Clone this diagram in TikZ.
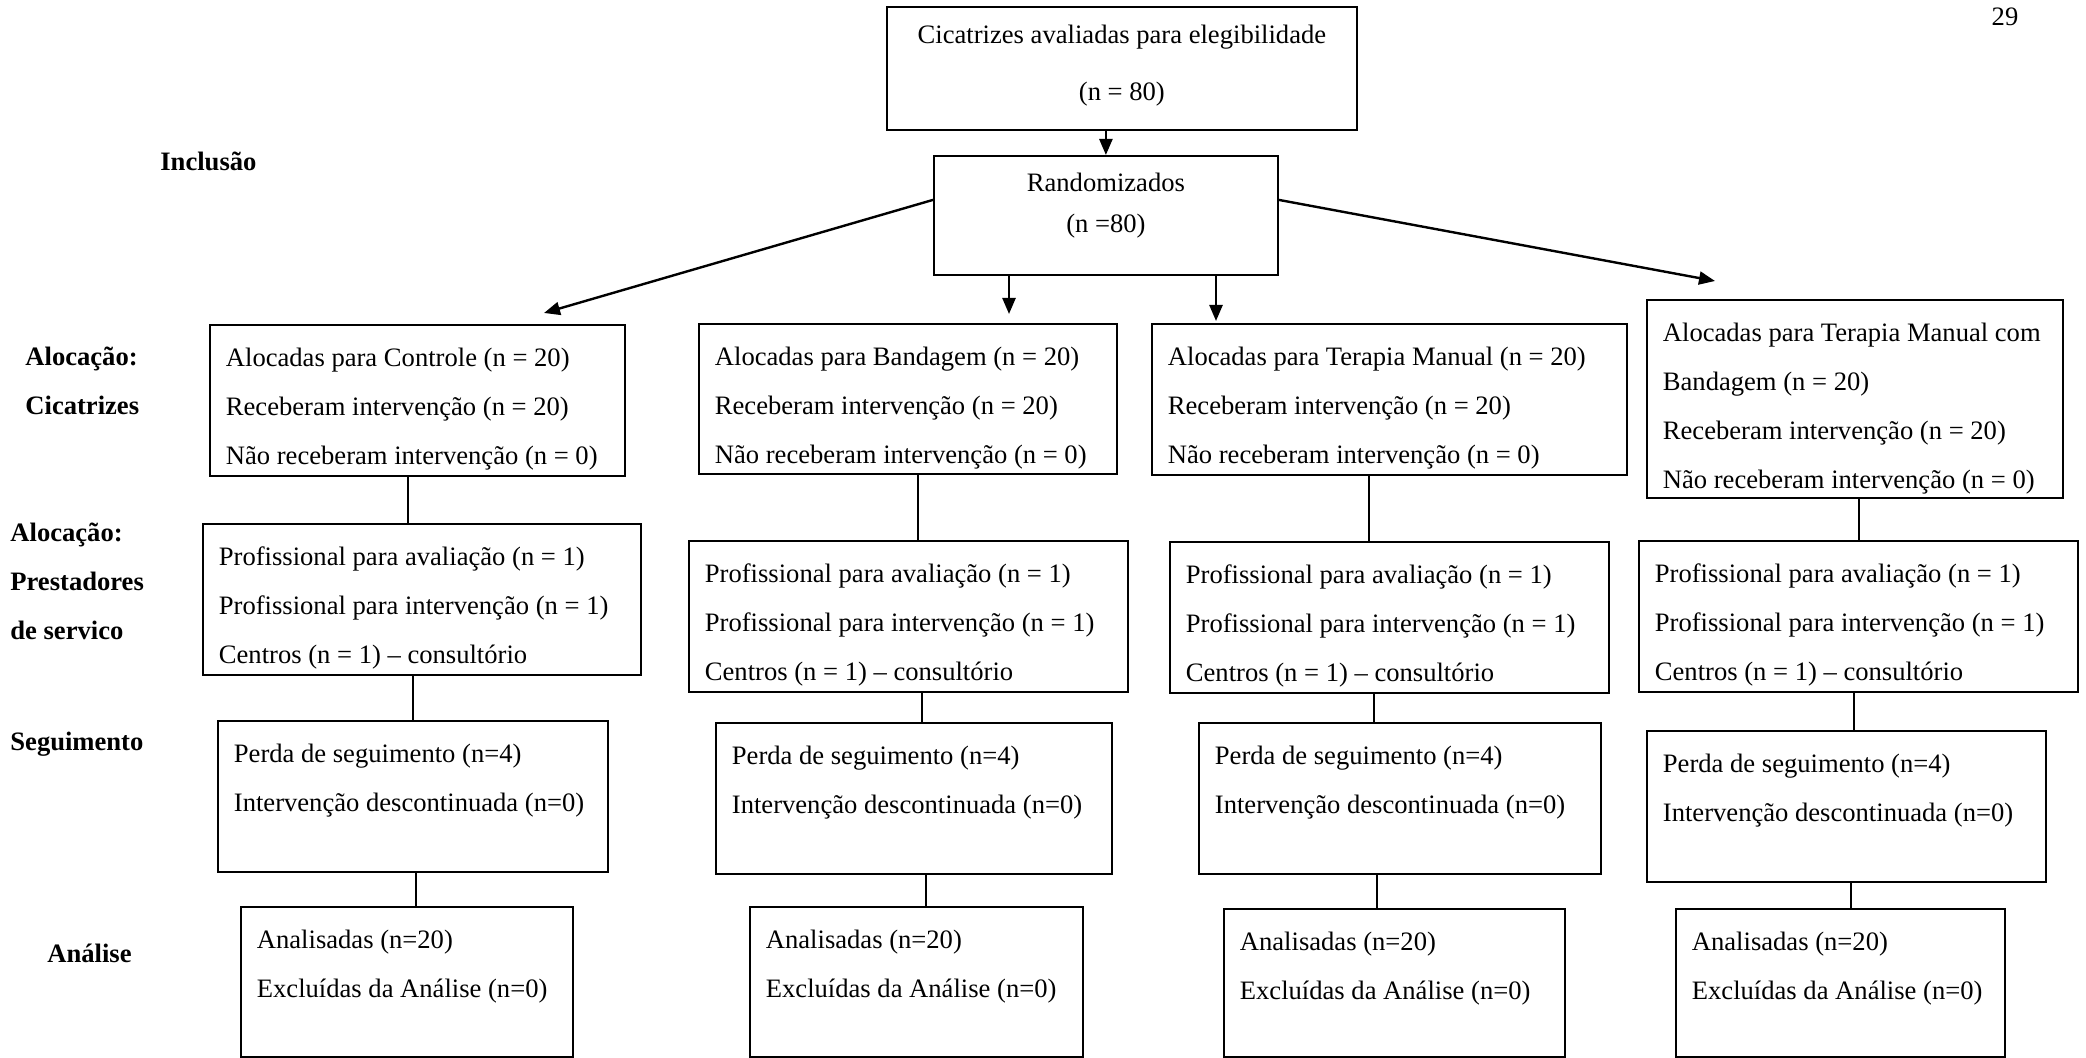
\documentclass[tikz,border=0pt]{standalone}
\usepackage{fontspec}
\setmainfont{Liberation Serif}
\usetikzlibrary{arrows.meta}

\begin{document}
\begin{tikzpicture}[
    x=0.5pt, y=-0.5pt,
    font=\fontsize{13.3}{24.5}\selectfont,
    block/.style={rectangle, draw, line width=0.9pt, anchor=north west, align=flush left, inner xsep=8pt, inner ysep=11pt, text height=10pt},
    phase/.style={anchor=base west, align=flush left, text width=80pt, inner sep=0pt, font=\fontsize{13.3}{24.5}\selectfont\bfseries},
    arrow/.style={-{Triangle[length=8pt, width=6.5pt]}, line width=1.2pt},
    link/.style={line width=0.6pt}
]
\useasboundingbox (0,0) rectangle (2086,1058);

% inclusion
\node[block, align=flush center, text width=219pt, text height=7.5pt, text depth=32pt] (top) at (886,6) {Cicatrizes avaliadas para elegibilidade\\[4pt](n = 80)};
\node[block, align=flush center, text width=156pt, text height=7pt, text depth=30.5pt] (rand) at (933,155) {Randomizados\\[-4pt](n =80)};

% allocation: scars
\node[block, text width=191.5pt, text depth=43.5pt] (a1) at (209,324) {Alocadas para Controle (n = 20)\\Receberam intervenção (n = 20)\\Não receberam intervenção (n = 0)};
\node[block, text width=193pt, text depth=43pt] (a2) at (698,323) {Alocadas para Bandagem (n = 20)\\Receberam intervenção (n = 20)\\Não receberam intervenção (n = 0)};
\node[block, text width=221.5pt, text depth=43.5pt] (a3) at (1151,323) {Alocadas para Terapia Manual (n = 20)\\Receberam intervenção (n = 20)\\Não receberam intervenção (n = 0)};
\node[block, text width=192pt, text depth=67pt] (a4) at (1646,299) {Alocadas para Terapia Manual com\\Bandagem (n = 20)\\Receberam intervenção (n = 20)\\Não receberam intervenção (n = 0)};

% allocation: providers
\node[block, text width=203pt, text depth=43.5pt] (b1) at (202,523) {Profissional para avaliação (n = 1)\\Profissional para intervenção (n = 1)\\Centros (n = 1) -- consultório};
\node[block, text width=203.5pt, text depth=43.5pt] (b2) at (688,540) {Profissional para avaliação (n = 1)\\Profissional para intervenção (n = 1)\\Centros (n = 1) -- consultório};
\node[block, text width=203.5pt, text depth=43.5pt] (b3) at (1169,541) {Profissional para avaliação (n = 1)\\Profissional para intervenção (n = 1)\\Centros (n = 1) -- consultório};
\node[block, text width=203.5pt, text depth=43.5pt] (b4) at (1638,540) {Profissional para avaliação (n = 1)\\Profissional para intervenção (n = 1)\\Centros (n = 1) -- consultório};

% follow-up
\node[block, text width=179pt, text depth=43.5pt] (c1) at (217,720) {Perda de seguimento (n=4)\\Intervenção descontinuada (n=0)};
\node[block, text width=182pt, text depth=43.5pt] (c2) at (715,722) {Perda de seguimento (n=4)\\Intervenção descontinuada (n=0)};
\node[block, text width=185pt, text depth=43.5pt] (c3) at (1198,722) {Perda de seguimento (n=4)\\Intervenção descontinuada (n=0)};
\node[block, text width=183.5pt, text depth=43.5pt] (c4) at (1646,730) {Perda de seguimento (n=4)\\Intervenção descontinuada (n=0)};

% analysis
\node[block, text width=150pt, text depth=43pt] (d1) at (240,906) {Analisadas (n=20)\\Excluídas da Análise (n=0)};
\node[block, text width=150.5pt, text depth=43pt] (d2) at (749,906) {Analisadas (n=20)\\Excluídas da Análise (n=0)};
\node[block, text width=154.5pt, text depth=42pt] (d3) at (1223,908) {Analisadas (n=20)\\Excluídas da Análise (n=0)};
\node[block, text width=148.5pt, text depth=42pt] (d4) at (1675,908) {Analisadas (n=20)\\Excluídas da Análise (n=0)};

% phase names
\node[phase] (incl) at (160,171) {Inclusão};
\node[phase] (alocA) at (25,366) {Alocação:\\Cicatrizes};
\node[phase] (alocB) at (10,541) {Alocação:\\Prestadores\\de servico};
\node[phase] (seg) at (10,750) {Seguimento};
\node[phase] (ana) at (47,962) {Análise};
\node[anchor=base, inner sep=0pt] (page) at (2005,26) {29};

% arrows
\coordinate (tipL) at (544,313);
\coordinate (tipM1) at (1009,314);
\coordinate (tipM2) at (1216,321);
\coordinate (tipR) at (1715,281);

\draw[arrow] (top.south -| rand.north) -- (rand.north);
\draw[arrow] ([yshift=7.75pt]rand.west) -- (tipL);
\draw[arrow] (rand.south -| tipM1) -- (tipM1);
\draw[arrow] (rand.south -| tipM2) -- (tipM2);
\draw[arrow] ([yshift=7.75pt]rand.east) -- (tipR);

% column links
\draw[link] (a1.south -| 408,0) -- (b1.north -| 408,0);
\draw[link] (b1.south -| 413,0) -- (c1.north -| 413,0);
\draw[link] (c1.south -| 416,0) -- (d1.north -| 416,0);
\draw[link] (a2.south -| 918,0) -- (b2.north -| 918,0);
\draw[link] (b2.south -| 922,0) -- (c2.north -| 922,0);
\draw[link] (c2.south -| 926,0) -- (d2.north -| 926,0);
\draw[link] (a3.south -| 1369,0) -- (b3.north -| 1369,0);
\draw[link] (b3.south -| 1374,0) -- (c3.north -| 1374,0);
\draw[link] (c3.south -| 1377,0) -- (d3.north -| 1377,0);
\draw[link] (a4.south -| 1859,0) -- (b4.north -| 1859,0);
\draw[link] (b4.south -| 1854,0) -- (c4.north -| 1854,0);
\draw[link] (c4.south -| 1851,0) -- (d4.north -| 1851,0);
\end{tikzpicture}
\end{document}
